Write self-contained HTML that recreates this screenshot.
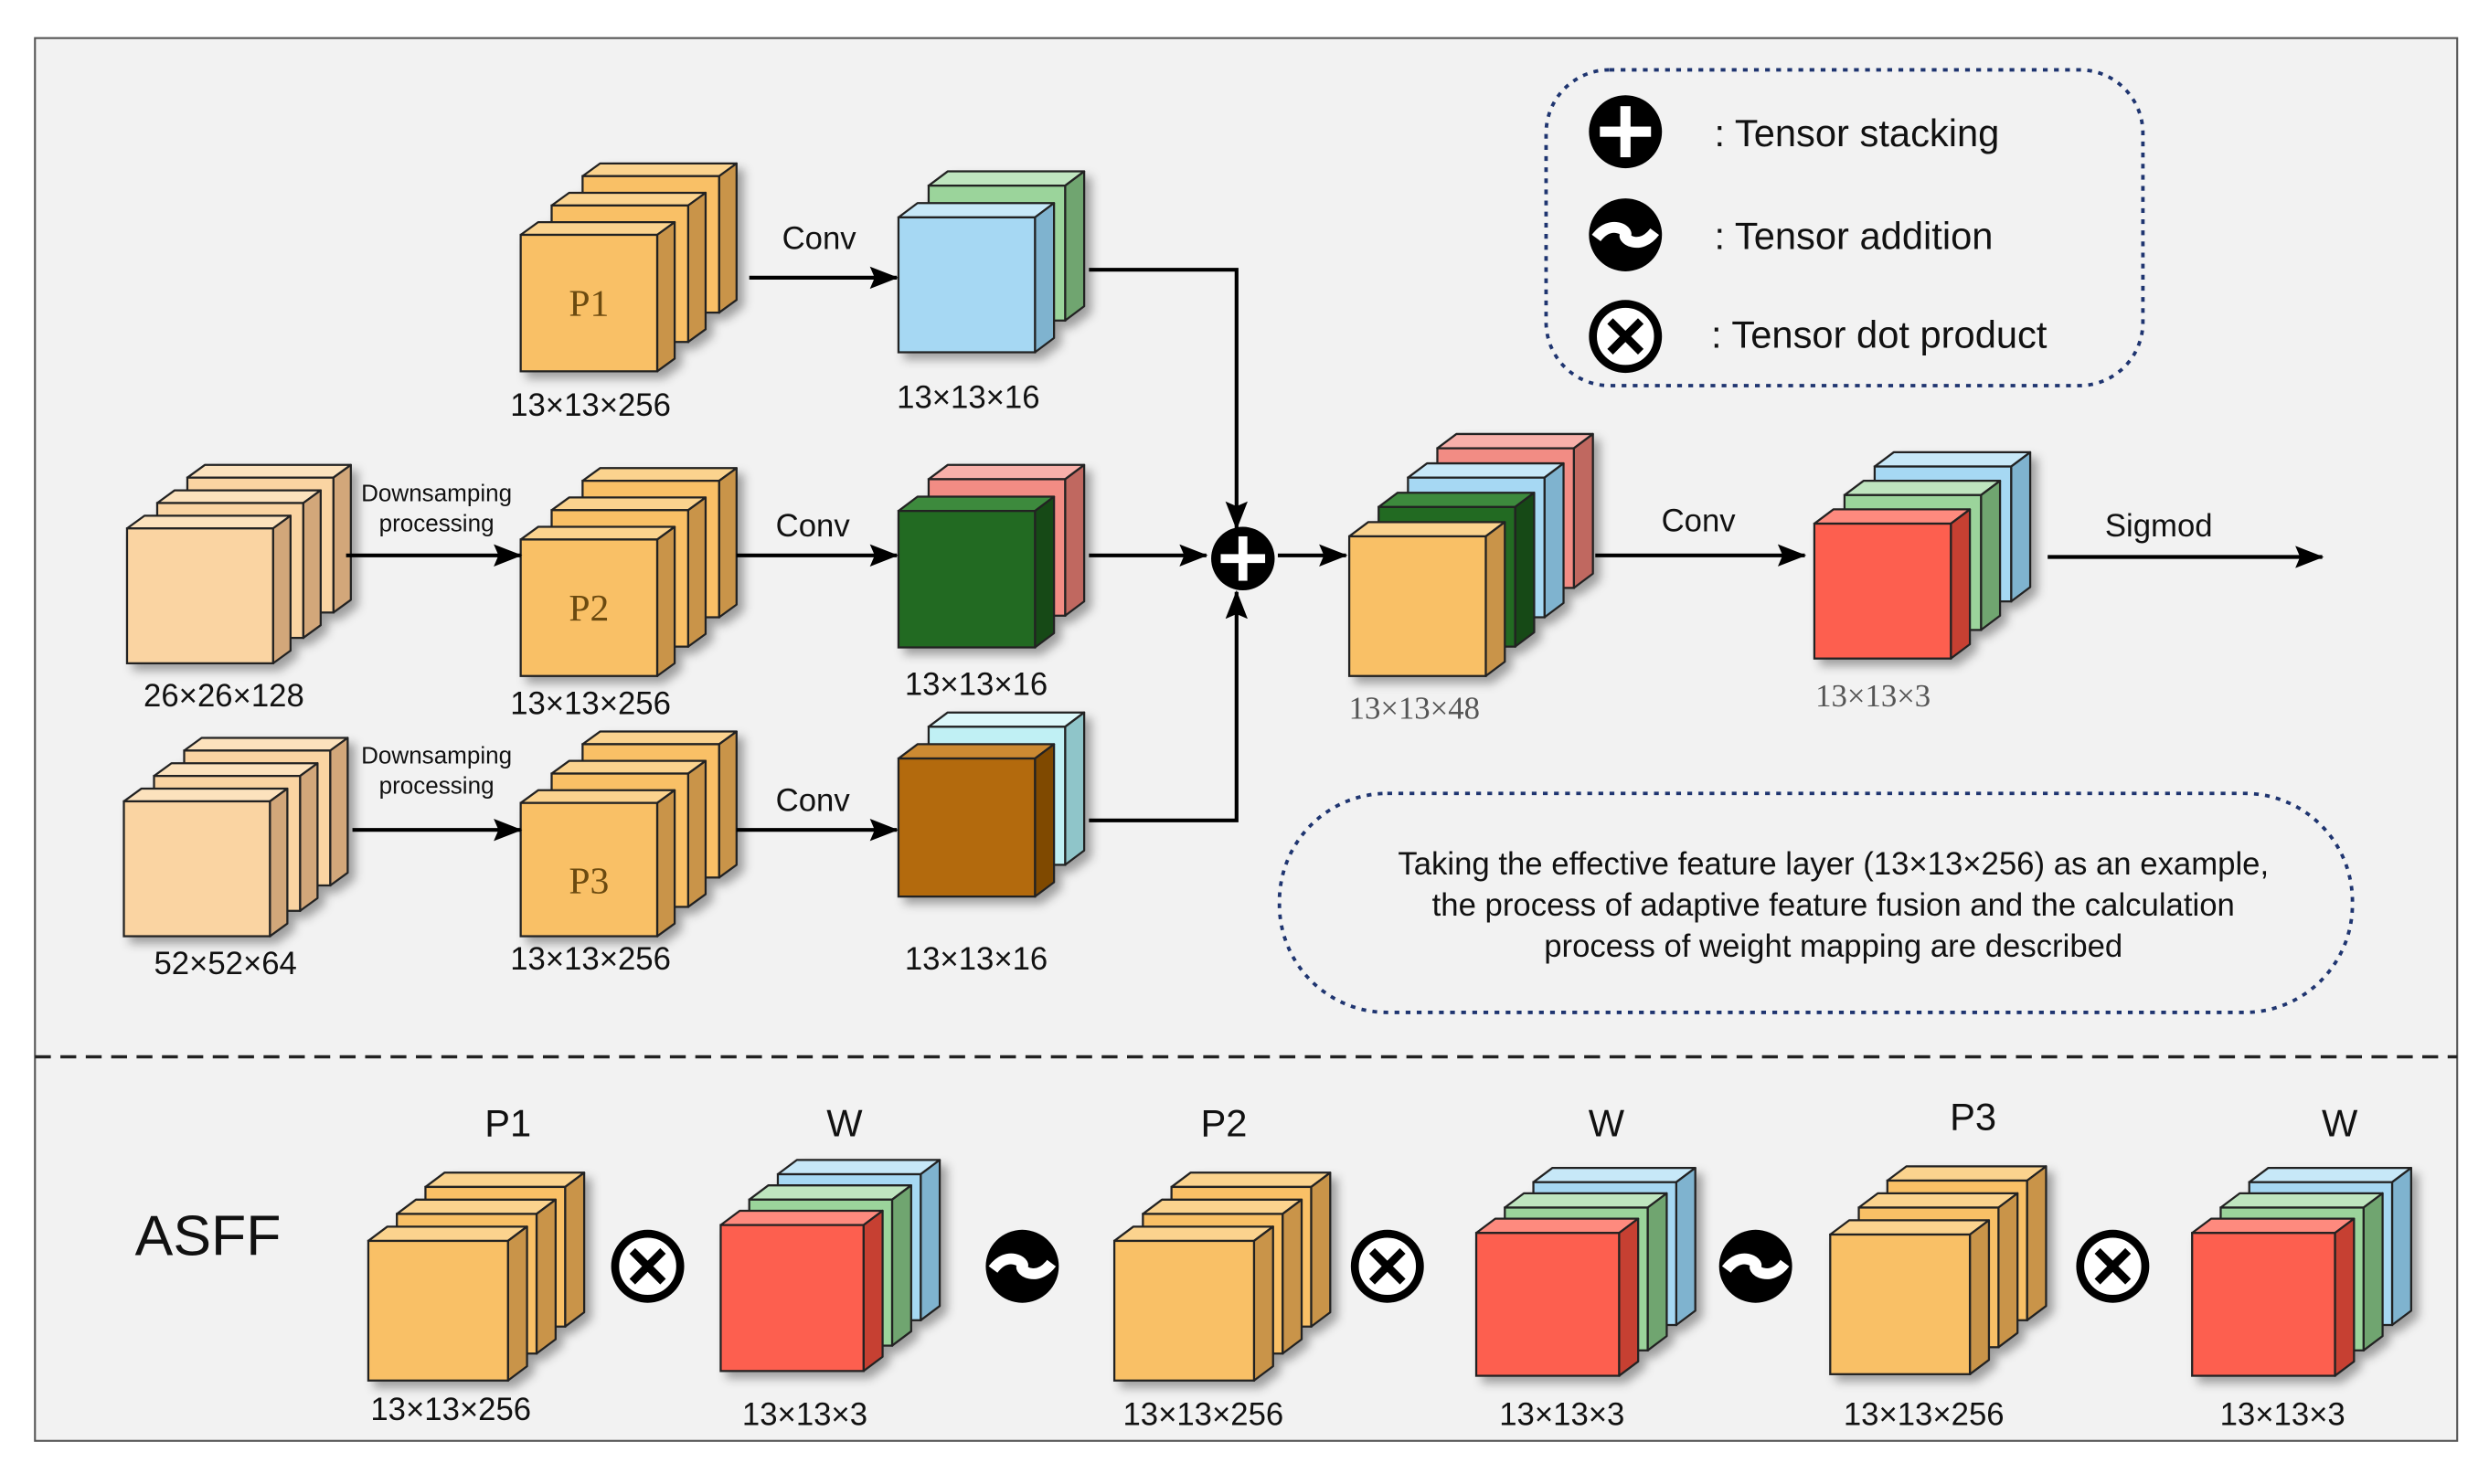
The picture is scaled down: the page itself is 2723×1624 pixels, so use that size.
<!DOCTYPE html>
<html><head><meta charset="utf-8"><style>
html,body{margin:0;padding:0;background:#fff}
svg{display:block}
text{font-family:"Liberation Sans",sans-serif;fill:#111}
.s{font-family:"Liberation Serif",serif}
</style></head><body>
<svg id="v" width="2723" height="1624" viewBox="0 0 1568 935.2" xmlns="http://www.w3.org/2000/svg">
<defs>
<filter id="sh" x="-20%" y="-20%" width="150%" height="150%"><feDropShadow dx="4" dy="4" stdDeviation="3" flood-color="#000" flood-opacity="0.35"/></filter>
<marker id="ar" markerWidth="18" markerHeight="14" refX="17" refY="7" orient="auto" markerUnits="userSpaceOnUse"><path d="M0,0 L18,7 L0,14 L3,7 Z" fill="#000"/></marker>
</defs>
<rect x="0" y="0" width="1568" height="935.2" fill="#fff"/>
<rect x="22" y="24" width="1526" height="884" fill="#f2f2f2" stroke="#555" stroke-width="1.2"/>
<line x1="22" y1="666" x2="1548" y2="666" stroke="#222" stroke-width="2" stroke-dasharray="10,6"/>
<g id="shapes"></g>
<g stroke="#000" stroke-width="2.4" fill="none">
<line x1="472" y1="175" x2="565" y2="175" marker-end="url(#ar)"/>
<polyline points="686,170 779,170 779,333" marker-end="url(#ar)"/>
<line x1="218" y1="350" x2="328" y2="350" marker-end="url(#ar)"/>
<line x1="464" y1="350" x2="565" y2="350" marker-end="url(#ar)"/>
<line x1="686" y1="350" x2="760" y2="350" marker-end="url(#ar)"/>
<line x1="805" y1="350" x2="848" y2="350" marker-end="url(#ar)"/>
<polyline points="686,517 779,517 779,373" marker-end="url(#ar)"/>
<line x1="222" y1="523" x2="328" y2="523" marker-end="url(#ar)"/>
<line x1="464" y1="523" x2="565" y2="523" marker-end="url(#ar)"/>
<line x1="1005" y1="350" x2="1137" y2="350" marker-end="url(#ar)"/>
<line x1="1290" y1="351" x2="1463" y2="351" marker-end="url(#ar)"/>
</g>
<g id="syms"></g>
<rect x="974" y="44" width="376" height="199" rx="40" fill="none" stroke="#1f3570" stroke-width="2.2" stroke-dasharray="3,4"/>
<rect x="806" y="500" width="676" height="138" rx="68" fill="none" stroke="#1f3570" stroke-width="2.2" stroke-dasharray="3,4"/>
<g font-size="24">
<text x="1080" y="92">: Tensor stacking</text>
<text x="1080" y="157">: Tensor addition</text>
<text x="1078" y="219">: Tensor dot product</text>
</g>
<g font-size="20" text-anchor="middle">
<text x="1155" y="551">Taking the effective feature layer (13×13×256) as an example,</text>
<text x="1155" y="577">the process of adaptive feature fusion and the calculation</text>
<text x="1155" y="603">process of weight mapping are described</text>
</g>
<g font-size="20" text-anchor="middle">
<text x="516" y="157">Conv</text>
<text x="512" y="338">Conv</text>
<text x="512" y="511">Conv</text>
<text x="1070" y="335">Conv</text>
<text x="1360" y="338">Sigmod</text>
<text x="372" y="262">13×13×256</text>
<text x="610" y="257">13×13×16</text>
<text x="141" y="445">26×26×128</text>
<text x="372" y="450">13×13×256</text>
<text x="615" y="438">13×13×16</text>
<text x="142" y="614">52×52×64</text>
<text x="372" y="611">13×13×256</text>
<text x="615" y="611">13×13×16</text>
</g>
<g font-size="15" text-anchor="middle">
<text x="275" y="316">Downsamping</text><text x="275" y="335">processing</text>
<text x="275" y="481">Downsamping</text><text x="275" y="500">processing</text>
</g>
<g class="s" font-size="20" text-anchor="middle" fill="#555">
<text class="s" x="891" y="453" style="fill:#555">13×13×48</text>
<text class="s" x="1180" y="445" style="fill:#555">13×13×3</text>
</g>
<g class="s" font-size="24" text-anchor="middle">
<text class="s" x="371" y="199" style="fill:#6b4a10">P1</text>
<text class="s" x="371" y="391" style="fill:#6b4a10">P2</text>
<text class="s" x="371" y="563" style="fill:#6b4a10">P3</text>
</g>
<text x="85" y="791" font-size="36">ASFF</text>
<g font-size="24" text-anchor="middle">
<text x="320" y="716">P1</text><text x="532" y="716">W</text>
<text x="771" y="716">P2</text><text x="1012" y="716">W</text>
<text x="1243" y="712">P3</text><text x="1474" y="716">W</text>
</g>
<g font-size="20" text-anchor="middle">
<text x="284" y="895">13×13×256</text><text x="507" y="898">13×13×3</text>
<text x="758" y="898">13×13×256</text><text x="984" y="898">13×13×3</text>
<text x="1212" y="898">13×13×256</text><text x="1438" y="898">13×13×3</text>
</g>
</svg>
<script>
(function(){
var NS="http://www.w3.org/2000/svg";
var g=document.getElementById("shapes"), sy=document.getElementById("syms");
function el(p,n,a){var e=document.createElementNS(NS,n);for(var k in a)e.setAttribute(k,a[k]);p.appendChild(e);return e;}
var C={o:["#f9c066","#fbd38e","#c99448"],l:["#fad4a2","#fce2bd","#d2a77a"],c:["#a6d8f3","#c7e8f8","#7fb3cf"],
g:["#9bd49b","#bfe5bf","#6fa56f"],dg:["#236b23","#3c8a3c","#174a17"],sa:["#f28c84","#f8b0aa","#c06760"],
b:["#b36a08","#cc8a30","#7f4a05"],pc:["#c0f0f4","#dcf8fa","#8fc5c9"],r:["#fd5f50","#fe8a7e","#c63f33"]};
function slab(p,x,y,w,h,dx,dy,c){
 el(p,"polygon",{points:x+","+y+" "+(x+dx)+","+(y-dy)+" "+(x+w+dx)+","+(y-dy)+" "+(x+w)+","+y,fill:c[1],stroke:"#222","stroke-width":1.3,"stroke-linejoin":"round"});
 el(p,"polygon",{points:(x+w)+","+y+" "+(x+w+dx)+","+(y-dy)+" "+(x+w+dx)+","+(y+h-dy)+" "+(x+w)+","+(y+h),fill:c[2],stroke:"#222","stroke-width":1.3,"stroke-linejoin":"round"});
 el(p,"rect",{x:x,y:y,width:w,height:h,fill:c[0],stroke:"#222","stroke-width":1.3});
}
function stack(x,y,w,h,cols,ox,oy,dx,dy){
 var p=el(g,"g",{filter:"url(#sh)"});
 ox=ox||19.5;oy=oy||18.5;dx=dx||11;dy=dy||8;
 for(var i=cols.length-1;i>=0;i--) slab(p,x+i*ox,y-i*oy,w,h,dx,dy,C[cols[i]]);
}
stack(328,148,86,86,["o","o","o"]);
stack(566,137,86,85,["c","g"],19,20,12,9);
stack(80,333,92,85,["l","l","l"],19,16);
stack(328,340,86,86,["o","o","o"]);
stack(566,322,86,86,["dg","sa"],19,20,12,9);
stack(78,505,92,85,["l","l","l"],19,16);
stack(328,506,86,84,["o","o","o"]);
stack(566,478,86,87,["b","pc"],19,20,12,9);
stack(850,338,86,88,["o","dg","c","sa"],18.5,18.5,12,9);
stack(1143,330,86,85,["r","g","c"],19,18,12,9);
stack(232,782,88,88,["o","o","o"],18,17,12,9);
stack(454,772,90,92,["r","g","c"],18,16,12,9);
stack(702,782,88,88,["o","o","o"],18,17,12,9);
stack(930,777,90,90,["r","g","c"],18,16,12,9);
stack(1153,778,88,88,["o","o","o"],18,17,12,9);
stack(1381,777,90,90,["r","g","c"],18,16,12,9);
function plus(x,y,r){el(sy,"circle",{cx:x,cy:y,r:r,fill:"#000"});
 el(sy,"rect",{x:x-r*0.7,y:y-r*0.14,width:r*1.4,height:r*0.28,fill:"#fff"});
 el(sy,"rect",{x:x-r*0.14,y:y-r*0.7,width:r*0.28,height:r*1.4,fill:"#fff"});}
function tilde(x,y,r){el(sy,"circle",{cx:x,cy:y,r:r,fill:"#000"});
 el(sy,"path",{d:"M"+(x-r*0.8)+","+(y+2)+" C"+(x-r*0.4)+","+(y-r*0.45)+" "+(x+r*0.1)+","+(y-r*0.1)+" "+x+","+y+" S"+(x+r*0.4)+","+(y+r*0.45)+" "+(x+r*0.8)+","+(y-2),stroke:"#fff","stroke-width":r*0.3,fill:"none"});}
function times(x,y,r){el(sy,"circle",{cx:x,cy:y,r:r-2.5,fill:"#fff",stroke:"#000","stroke-width":5});
 var k=r*0.42;el(sy,"path",{d:"M"+(x-k)+","+(y-k)+" L"+(x+k)+","+(y+k)+" M"+(x+k)+","+(y-k)+" L"+(x-k)+","+(y+k),stroke:"#000","stroke-width":5});}
plus(1024,83,23);tilde(1024,148,23);times(1024,212,23);
plus(783,352,20);
times(408,798,23);tilde(644,798,23);times(874,798,23);tilde(1106,798,23);times(1331,798,23);
})();
</script>
</body></html>
